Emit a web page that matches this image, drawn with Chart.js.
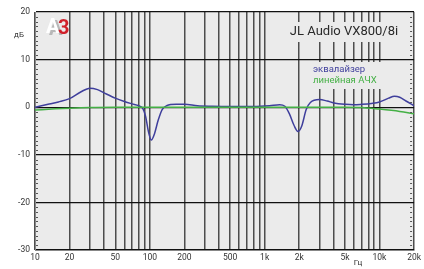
<!DOCTYPE html>
<html>
<head>
<meta charset="utf-8">
<script src="https://cdn.jsdelivr.net/npm/chart.js@4/dist/chart.umd.min.js"></script>
<style>
  html, body { margin: 0; padding: 0; background: #fff; }
  canvas { display: block; }
</style>
</head>
<body>
<canvas id="fr" width="424" height="269"></canvas>
<script>
// frequency response data (Hz, dB)
var eqFreq = [10, 13, 16, 20, 25, 30, 35, 40, 50, 60, 70, 80, 87, 92, 97, 103, 110, 118, 128, 140, 170, 200, 260, 350, 500, 800, 1100, 1350, 1500, 1650, 1800, 1950, 2100, 2300, 2500, 3000, 3500, 4000, 5000, 6000, 7000, 8500, 10000, 12000, 13500, 15000, 17000, 20000];
var eqDb = [0.0, 0.6, 1.1, 1.8, 3.2, 4.0, 3.7, 3.0, 1.9, 1.2, 0.7, 0.3, -0.3, -2.0, -5.0, -6.9, -5.5, -2.8, -0.5, 0.3, 0.6, 0.6, 0.3, 0.2, 0.15, 0.15, 0.3, 0.5, 0.2, -1.5, -3.8, -5.1, -4.0, -0.5, 1.0, 1.6, 1.3, 0.9, 0.6, 0.5, 0.6, 0.8, 1.1, 1.9, 2.3, 2.1, 1.3, 0.3];

var linFreq = [10, 15, 20, 30, 50, 100, 1000, 5000, 7000, 10000, 15000, 20000];
var linDb = [-0.6, -0.35, -0.2, -0.05, 0, 0, 0, 0, -0.05, -0.4, -0.9, -1.4];

var gridFreqs = [10, 20, 30, 40, 50, 60, 70, 80, 90, 100, 200, 300, 400, 500, 600, 700, 800, 900, 1000, 2000, 3000, 4000, 5000, 6000, 7000, 8000, 9000, 10000, 20000];
var xLabels = { 10: '10', 20: '20', 50: '50', 100: '100', 200: '200', 500: '500', 1000: '1k', 2000: '2k', 5000: '5k', 10000: '10k', 20000: '20k' };
var yTicks = [-30, -20, -10, 0, 10, 20];

var title = 'JL Audio VX800/8i';
var seriesNames = ['эквалайзер', 'линейная АЧХ'];
var seriesColors = ['#3f3f9c', '#44b045'];

function pts(xs, ys) {
  return xs.map(function (x, i) { return { x: x, y: ys[i] }; });
}

var decor = {
  id: 'decor',
  beforeDraw: function (chart) {
    var a = chart.chartArea, c = chart.ctx;
    c.save();
    c.fillStyle = '#ebebeb';
    c.fillRect(a.left, a.top, a.right - a.left, a.bottom - a.top);
    c.restore();
  },
  afterDraw: function (chart) {
    var a = chart.chartArea, c = chart.ctx;
    var y = chart.scales.y;
    c.save();
    // small dB ticks along the left and right edges
    c.strokeStyle = '#555';
    c.lineWidth = 1;
    for (var d = -29; d < 20; d++) {
      if (d % 10 === 0) continue;
      var py = Math.round(y.getPixelForValue(d)) + 0.5;
      c.beginPath();
      c.moveTo(a.left + 1, py); c.lineTo(a.left + 3, py);
      c.moveTo(a.right - 4, py); c.lineTo(a.right - 2, py);
      c.stroke();
    }
    // title box
    c.fillStyle = '#ebebeb';
    c.fillRect(287, 22, 117, 20);
    c.fillStyle = '#2a2a2a';
    c.font = '13px Roboto';
    c.textAlign = 'center';
    c.textBaseline = 'middle';
    c.fillText(title, 344, 32);
    // legend box
    c.fillStyle = '#ebebeb';
    c.fillRect(308, 62, 76, 27);
    c.font = '9.5px Roboto';
    c.textAlign = 'left';
    c.fillStyle = seriesColors[0];
    c.fillText(seriesNames[0], 313, 70);
    c.fillStyle = seriesColors[1];
    c.fillText(seriesNames[1], 313, 81);
    // axis units
    c.fillStyle = '#333';
    c.font = '8px Roboto';
    c.textAlign = 'center';
    c.fillText('дБ', 19, 35);
    c.fillText('Гц', 358, 263);
    // logo
    c.font = 'bold 20px Roboto';
    c.textAlign = 'left';
    c.fillStyle = '#b8b8b8';
    c.fillText('A', 49, 30);
    c.fillStyle = '#ffffff';
    c.fillText('A', 46, 28);
    c.fillStyle = '#d0202a';
    c.fillText('3', 58, 29);
    c.restore();
  }
};

new Chart(document.getElementById('fr'), {
  type: 'scatter',
  data: {
    datasets: [{
      label: seriesNames[1],
      data: pts(linFreq, linDb),
      showLine: true,
      borderColor: seriesColors[1],
      borderWidth: 1.5,
      pointRadius: 0,
      tension: 0.4,
      cubicInterpolationMode: 'monotone'
    }, {
      label: seriesNames[0],
      data: pts(eqFreq, eqDb),
      showLine: true,
      borderColor: seriesColors[0],
      borderWidth: 1.5,
      pointRadius: 0,
      tension: 0.4,
      cubicInterpolationMode: 'monotone'
    }]
  },
  options: {
    responsive: false,
    animation: false,
    layout: { padding: { top: 12, right: 9, left: 0, bottom: 0 } },
    plugins: { legend: { display: false }, tooltip: { enabled: false } },
    scales: {
      x: {
        type: 'logarithmic',
        min: 10,
        max: 20000,
        afterBuildTicks: function (s) { s.ticks = gridFreqs.map(function (v) { return { value: v }; }); },
        afterFit: function (s) { s.height = 19; },
        ticks: {
          autoSkip: false,
          maxRotation: 0,
          padding: 3,
          color: '#333',
          font: { family: 'Roboto', size: 8.5 },
          callback: function (v) { return xLabels[v] || ''; }
        },
        grid: { color: '#4d4d4d', lineWidth: 1.5, drawTicks: false },
        border: { color: '#888', width: 1 }
      },
      y: {
        min: -30,
        max: 20,
        afterBuildTicks: function (s) { s.ticks = yTicks.map(function (v) { return { value: v }; }); },
        afterFit: function (s) { s.width = 35; },
        ticks: {
          padding: 5,
          color: '#333',
          font: { family: 'Roboto', size: 8.5 }
        },
        grid: { color: '#111', lineWidth: 1.3, drawTicks: false },
        border: { color: '#888', width: 1 }
      }
    }
  },
  plugins: [decor]
});
</script>
</body>
</html>
